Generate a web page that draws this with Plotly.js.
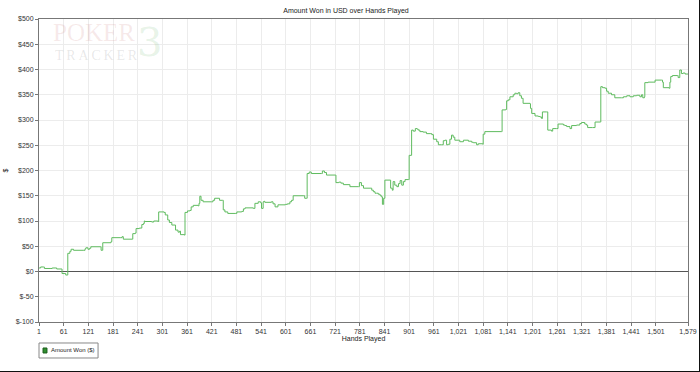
<!DOCTYPE html>
<html>
<head>
<meta charset="utf-8">
<script src="https://cdn.plot.ly/plotly-3.0.1.min.js"></script>
<style>
html,body{margin:0;padding:0;background:#fff;}
#chart{width:699px;height:371px;border-right:1px solid #111;border-bottom:1px solid #111;}
</style>
</head>
<body>
<div id="chart"></div>
<script>
// Hands played (x) and cumulative amount won in USD (y)
var hands = [1,5,12,14,30,33,40,44,55,57,64,66,70,71,76,79,85,110,113,115,120,124,127,150,152,155,156,176,178,200,203,206,228,229,235,237,245,251,255,257,
259,275,280,290,292,305,308,314,318,324,332,333,339,343,345,355,356,362,368,371,376,388,390,392,395,400,420,424,428,439,440,447,449,453,460,478,482,494,498,502,522,526,534,540,542,
546,548,550,566,570,575,582,600,605,611,615,619,645,647,652,653,658,663,688,690,695,700,722,723,730,735,741,755,757,778,780,785,790,806,810,814,818,
822,826,830,833,836,839,842,855,856,860,862,866,871,875,879,883,887,891,899,901,906,907,911,916,920,923,927,935,943,952,956,960,968,972,980,984,988,992,996,1000,1004,1008,1012,1020,1024,1033,1045,1053,1057,1065,1069,1080,1081,
1085,1126,1127,1136,1138,1142,1146,1154,1158,1162,1166,1170,1174,1178,1195,1196,1199,1207,1215,1219,1223,1225,1235,1238,1247,1250,1259,1263,1276,1280,1284,1292,1296,1308,1316,1320,1328,1332,1335,1347,
1353,1366,1367,1371,1377,1381,1385,1393,1401,1417,1422,1430,1438,1446,1454,1462,1466,1469,1473,1474,1482,1494,1499,1515,1517,1519,1533,1535,1537,1541,1553,1555,1559,1563,1567,1572,1579];
var amountWon = [7,9,9,6,6,7,7,5,5,-4,-4,-7,-7,36,40,44,42,42,45,47,44,46,49,49,42,42,57,59,67,67,69,64,64,75,76,85,86,93,95,100,
99,98,100,99,118,117,112,102,97,92,92,82,78,80,73,72,117,120,121,128,131,130,135,149,141,138,138,141,145,145,141,141,122,118,115,115,118,119,124,126,125,135,138,136,125,
138,139,137,138,134,128,132,133,134,138,141,150,150,145,145,194,197,194,194,199,196,191,191,176,177,175,172,172,168,168,176,170,165,165,161,158,155,
155,153,151,148,133,145,181,181,165,161,178,171,168,174,180,171,178,182,182,230,230,280,278,283,282,280,277,276,273,273,271,262,257,251,251,259,260,251,252,262,270,266,260,260,257,260,258,256,255,251,253,252,272,
277,277,320,321,338,340,346,350,353,352,354,348,343,333,332,323,313,308,307,306,303,316,316,280,278,283,283,292,290,289,287,283,289,290,293,295,292,290,285,285,
296,296,366,364,363,357,353,350,344,344,346,348,346,348,349,346,350,344,346,374,375,375,379,379,375,364,363,375,386,388,388,384,399,392,393,391,391];

var xTicks = [1,61,121,181,241,301,361,421,481,541,601,661,721,781,841,901,961,1021,1081,1141,1201,1261,1321,1381,1441,1501,1579];
var xTickText = ['1','61','121','181','241','301','361','421','481','541','601','661','721','781','841','901','961','1,021','1,081','1,141','1,201','1,261','1,321','1,381','1,441','1,501','1,579'];
var yTicks = [-100,-50,0,50,100,150,200,250,300,350,400,450,500];
var yTickText = ['$-100','$-50','$0','$50','$100','$150','$200','$250','$300','$350','$400','$450','$500'];
var seriesName = 'Amount Won ($)';

var fontFam = 'Liberation Sans, Arial, sans-serif';

var traces = [
  {x: hands, y: amountWon, type: 'scatter', mode: 'lines', name: seriesName,
   line: {color: '#5fbb5f', width: 1, shape: 'hv'}, showlegend: false, hoverinfo: 'x+y'}
];

var layout = {
  width: 699, height: 371,
  margin: {l: 39, r: 11, t: 19, b: 49},
  paper_bgcolor: '#fff', plot_bgcolor: '#fff',
  font: {family: fontFam, size: 7, color: '#222'},
  title: {text: 'Amount Won in USD over Hands Played', font: {size: 7, color: '#222'}, x: 0.495, xanchor: 'center', y: 0.972, yanchor: 'middle'},
  xaxis: {
    range: [1, 1579], tickmode: 'array', tickvals: xTicks, ticktext: xTickText,
    showgrid: true, gridcolor: '#ececec', gridwidth: 1,
    showline: true, linecolor: '#777', linewidth: 1, mirror: true,
    ticks: 'outside', ticklen: 3, tickcolor: '#777',
    zeroline: false, tickfont: {size: 7, color: '#333'},
    title: {text: 'Hands Played', font: {size: 7, color: '#222'}, standoff: 1}
  },
  yaxis: {
    range: [-100, 500], tickmode: 'array', tickvals: yTicks, ticktext: yTickText,
    showgrid: true, gridcolor: '#ececec', gridwidth: 1,
    showline: true, linecolor: '#777', linewidth: 1, mirror: true,
    ticks: 'outside', ticklen: 3, tickcolor: '#777',
    zeroline: true, zerolinecolor: '#555', zerolinewidth: 1,
    tickfont: {size: 7, color: '#333'},
    title: {text: '$', font: {size: 7, color: '#222'}, standoff: 6}
  },
  showlegend: false,
  shapes: [
    // legend box
    {type: 'rect', xref: 'paper', yref: 'paper', x0: 0, x1: 0.091, y0: -0.1188, y1: -0.0693,
     line: {color: '#888', width: 1}, fillcolor: '#fff'},
    // legend swatch
    {type: 'rect', xref: 'paper', yref: 'paper', x0: 0.0062, x1: 0.0123, y0: -0.1023, y1: -0.0858,
     line: {color: '#1d5e1d', width: 1}, fillcolor: '#2f8f2f'}
  ],
  annotations: [
    {xref: 'paper', yref: 'paper', x: 0.0154, y: -0.094, text: seriesName, showarrow: false,
     font: {size: 6, color: '#222'}, xanchor: 'left', yanchor: 'middle'},
    {xref: 'paper', yref: 'paper', x: 0.17, y: 0.925, text: '3', showarrow: false,
     font: {family: 'DejaVu Serif, serif', size: 40, color: 'rgba(120,190,120,0.18)'}, xanchor: 'center', yanchor: 'middle'},
    {xref: 'paper', yref: 'paper', x: 0.018, y: 0.955, text: 'POKER', showarrow: false,
     font: {family: 'Liberation Serif, serif', size: 25, color: 'rgba(200,120,120,0.16)'}, xanchor: 'left', yanchor: 'middle'},
    {xref: 'paper', yref: 'paper', x: 0.022, y: 0.88, text: 'T\u2009R\u2009A\u2009C\u2009K\u2009E\u2009R', showarrow: false,
     font: {family: 'Liberation Serif, serif', size: 14, color: 'rgba(110,110,110,0.16)'}, xanchor: 'left', yanchor: 'middle'}
  ]
};

Plotly.newPlot('chart', traces, layout, {displayModeBar: false, staticPlot: true});
</script>
</body>
</html>
